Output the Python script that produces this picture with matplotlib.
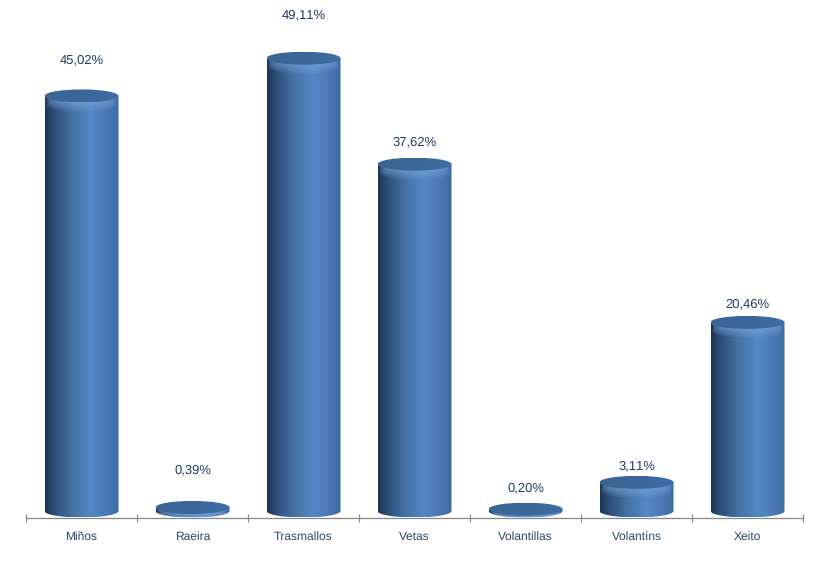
import numpy as np
import matplotlib
matplotlib.use("Agg")
import matplotlib.pyplot as plt
from matplotlib.colors import LinearSegmentedColormap
from matplotlib.patches import Ellipse, PathPatch
from matplotlib.path import Path

plt.rcParams['font.family'] = ['Liberation Sans', 'DejaVu Sans']
plt.rcParams['text.hinting'] = 'no_hinting'
plt.rcParams['text.hinting_factor'] = 1

categories = ["Miños", "Raeira", "Trasmallos", "Vetas", "Volantillas", "Volantíns", "Xeito"]
values = [45.02, 0.39, 49.11, 37.62, 0.20, 3.11, 20.46]
value_labels = ["45,02%", "0,39%", "49,11%", "37,62%", "0,20%", "3,11%", "20,46%"]
# label gap above each bar top, in points
label_gaps = [26, 27, 31, 16, 15, 12, 13]

W, H = 824, 574
PX = 9.22  # pixels per percent
AXIS_Y = 518
ZERO_Y = 511
ELL_H = 13 / PX
BAR_W = 74 / 111

fig = plt.figure(figsize=(W / 100, H / 100), dpi=100, facecolor="white")
ax = fig.add_axes([26 / W, (H - AXIS_Y) / H, 777 / W, AXIS_Y / H])

side = LinearSegmentedColormap.from_list("side", [
    (0.0, "#1d3553"), (0.12, "#2b4d78"), (0.35, "#44709f"),
    (0.62, "#5388c8"), (0.85, "#4878b4"), (1.0, "#3d6aa0")])
top_map = LinearSegmentedColormap.from_list("top", ["#3b6694", "#3a6699", "#3f6da6"])

bars = ax.bar(range(len(values)), values, width=BAR_W, color="none")
grad = np.linspace(0, 1, 256).reshape(1, -1)

for bar, val, lab, gap in zip(bars, values, value_labels, label_gaps):
    x0 = bar.get_x()
    w = bar.get_width()
    xc = x0 + w / 2
    # body outline: side walls plus front half of the bottom ellipse
    t = np.linspace(np.pi, 2 * np.pi, 40)
    xs = xc + w / 2 * np.cos(t)
    ys = ELL_H / 2 * np.sin(t)
    verts = [(x0, val)] + list(zip(xs, ys)) + [(x0 + w, val), (x0, val)]
    body = PathPatch(Path(verts), transform=ax.transData, fc="none", ec="none")
    ax.add_patch(body)
    im = ax.imshow(grad, extent=[x0, x0 + w, -ELL_H / 2, val], cmap=side,
                   aspect="auto", zorder=2, interpolation="bilinear")
    im.set_clip_path(body)
    # soft glow just below the lid, stacked ellipses fading out
    for off in [9, 7, 5, 3, 1.5]:
        rim = Ellipse((xc, val - off / PX), w * 0.94, ELL_H, fc="#7aa8dc", ec="none",
                      alpha=0.16, zorder=3)
        ax.add_patch(rim)
        rim.set_clip_path(body)
    lid = Ellipse((xc, val), w, ELL_H, fc="none", ec="none")
    ax.add_patch(lid)
    im2 = ax.imshow(grad, extent=[x0, x0 + w, val - ELL_H / 2, val + ELL_H / 2], cmap=top_map,
                    aspect="auto", zorder=4, interpolation="bilinear")
    im2.set_clip_path(lid)
    ax.annotate(lab, (xc, val), xytext=(0, gap), textcoords="offset points", ha="center",
                va="center", fontsize=9.7, color="#1f3a63", zorder=5)

ax.set_xlim(-0.5, 6.5)
ax.set_ylim((ZERO_Y - AXIS_Y) / PX, ZERO_Y / PX)
ax.patch.set_alpha(0)
for s in ["top", "left", "right"]:
    ax.spines[s].set_visible(False)
ax.spines["bottom"].set_color("#868686")
ax.spines["bottom"].set_linewidth(0.9)
ax.set_yticks([])
ax.set_xticks(np.arange(-0.5, 7, 1))
ax.set_xticklabels([])
ax.tick_params(axis="x", which="major", direction="inout", length=6, width=0.8, color="#868686")
ax.set_xticks(range(len(categories)), minor=True)
ax.set_xticklabels(categories, minor=True, fontsize=8.7, color="#2b4468")
ax.tick_params(axis="x", which="minor", length=0, pad=9.5)

fig.savefig("out.png", dpi=100, facecolor="white")
